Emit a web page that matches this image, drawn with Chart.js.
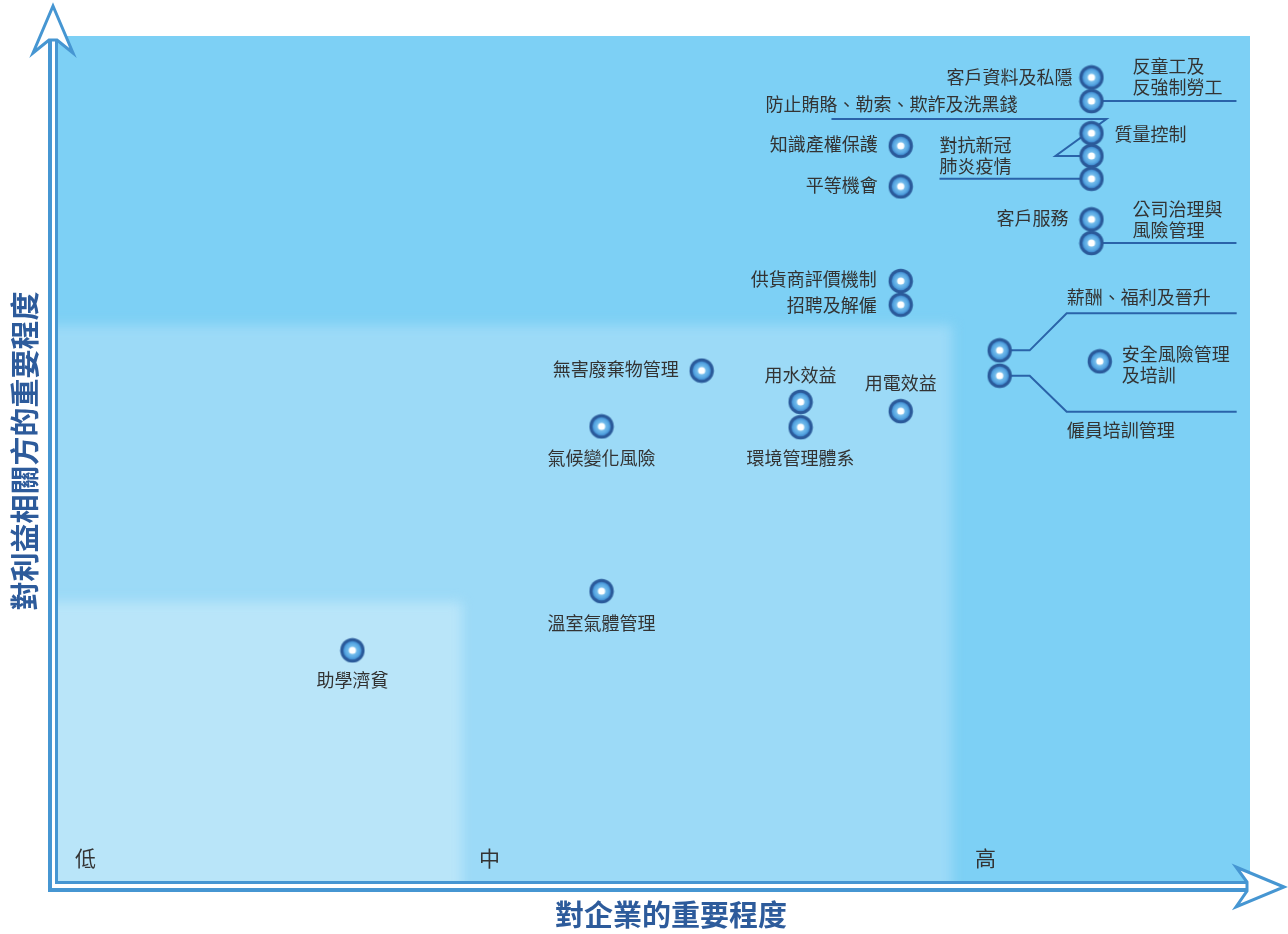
<!DOCTYPE html>
<html>
<head>
<meta charset="utf-8">
<script src="https://cdn.jsdelivr.net/npm/chart.js@4.4.0/dist/chart.umd.min.js"></script>
<style>
  html, body { margin: 0; padding: 0; background: #fff; }
  #wrap { width: 1288px; height: 934px; position: relative; }
</style>
</head>
<body>
<div id="wrap"><canvas id="graph"></canvas></div>
<script>
const canva = document.getElementById('graph');

// issues and their scores (0-10)
const issues = [
  '客戶資料及私隱', '反童工及反強制勞工', '質量控制', '防止賄賂、勒索、欺詐及洗黑錢', '對抗新冠肺炎疫情',
  '知識產權保護', '平等機會', '客戶服務', '公司治理與風險管理',
  '供貨商評價機制', '招聘及解僱', '薪酬、福利及晉升', '僱員培訓管理', '安全風險管理及培訓',
  '無害廢棄物管理', '用水效益', '環境管理體系', '用電效益', '氣候變化風險', '溫室氣體管理', '助學濟貧'
];
const bizImportance = [
  8.67, 8.67, 8.67, 8.67, 8.67,
  7.07, 7.07, 8.67, 8.67,
  7.07, 7.07, 7.90, 7.90, 8.74,
  5.40, 6.23, 6.23, 7.07, 4.56, 4.56, 2.47
];
const stakeImportance = [
  9.51, 9.23, 8.85, 8.58, 8.31,
  8.70, 8.22, 7.83, 7.55,
  7.10, 6.82, 6.28, 5.98, 6.15,
  6.04, 5.67, 5.37, 5.56, 5.38, 3.43, 2.73
];

// zones: low / mid / high
const zoneNames = ['低', '中', '高'];
const zoneStart = [0, 3.39, 7.50];
const zoneTop = [3.30, 6.58, 10];
const zoneColors = ['#b9e5f9', '#9cdaf7', '#7dd0f5'];

// label placement (pixel offsets from the point)
const labelLayout = {
  '客戶資料及私隱': { align: 'right', dx: -19, dy: 0 },
  '反童工及反強制勞工': { align: 'left', dx: 41, dy: -35, wrap: 4, line: [[0, 0], [145, 0]] },
  '質量控制': { align: 'left', dx: 23, dy: 1 },
  '防止賄賂、勒索、欺詐及洗黑錢': { align: 'right', dx: -74, dy: -52, line: [[0, 0], [-36, 0], [15, -37], [-260, -37]] },
  '對抗新冠肺炎疫情': { align: 'left', dx: -152, dy: -34, wrap: 4, line: [[0, 0], [-152, 0]] },
  '知識產權保護': { align: 'right', dx: -23, dy: -2 },
  '平等機會': { align: 'right', dx: -23, dy: -1 },
  '客戶服務': { align: 'right', dx: -23, dy: -1 },
  '公司治理與風險管理': { align: 'left', dx: 41, dy: -34, wrap: 5, line: [[0, 0], [145, 0]] },
  '供貨商評價機制': { align: 'right', dx: -24, dy: -2 },
  '招聘及解僱': { align: 'right', dx: -24, dy: 0 },
  '薪酬、福利及晉升': { align: 'left', dx: 67, dy: -53, line: [[0, 0], [30, 0], [67, -37], [237, -37]] },
  '僱員培訓管理': { align: 'left', dx: 67, dy: 54, line: [[0, 0], [30, 0], [67, 36], [237, 36]] },
  '安全風險管理及培訓': { align: 'left', dx: 22, dy: -7, wrap: 6 },
  '無害廢棄物管理': { align: 'right', dx: -23, dy: -1 },
  '用水效益': { align: 'center', dx: 0, dy: -27 },
  '環境管理體系': { align: 'center', dx: 0, dy: 31 },
  '用電效益': { align: 'center', dx: 0, dy: -28 },
  '氣候變化風險': { align: 'center', dx: 0, dy: 32 },
  '溫室氣體管理': { align: 'center', dx: 0, dy: 32 },
  '助學濟貧': { align: 'center', dx: 0, dy: 30 }
};

const FONT = '"Noto Sans CJK TC", "Noto Sans", sans-serif';
const AXIS_BLUE = '#4696d2';

// marker image
function makeMarker() {
  const c = document.createElement('canvas');
  c.width = 26; c.height = 26;
  const g = c.getContext('2d');
  const m = 13;
  g.beginPath(); g.arc(m, m, 12.2, 0, Math.PI * 2); g.fillStyle = '#2b5a9a'; g.fill();
  const grd = g.createRadialGradient(m, m, 2, m, m, 9.2);
  grd.addColorStop(0, '#86caf2');
  grd.addColorStop(0.7, '#5aa9e3');
  grd.addColorStop(1, '#3f8bd0');
  g.beginPath(); g.arc(m, m, 9.2, 0, Math.PI * 2); g.fillStyle = grd; g.fill();
  g.beginPath(); g.arc(m, m, 3.6, 0, Math.PI * 2); g.fillStyle = '#ffffff'; g.fill();
  return c;
}
const marker = makeMarker();

const points = issues.map((name, i) => ({ x: bizImportance[i], y: stakeImportance[i], name: name }));

const matrixPlugin = {
  id: 'matrix',
  beforeDatasetsDraw(chart) {
    const ctx = chart.ctx;
    const a = chart.chartArea;
    const xs = chart.scales.x, ys = chart.scales.y;
    ctx.save();
    ctx.beginPath();
    ctx.rect(a.left, a.top, a.right - a.left, a.bottom - a.top);
    ctx.clip();
    // high zone (full area)
    ctx.fillStyle = zoneColors[2];
    ctx.fillRect(a.left, a.top, a.right - a.left, a.bottom - a.top);
    // mid & low zones with soft edges
    for (let z = 1; z >= 0; z--) {
      const r = xs.getPixelForValue(zoneStart[z + 1]);
      const t = ys.getPixelForValue(zoneTop[z]);
      ctx.filter = 'blur(6px)';
      ctx.fillStyle = zoneColors[z];
      ctx.fillRect(a.left - 40, t, r - a.left + 40, a.bottom - t + 40);
      ctx.filter = 'none';
    }
    ctx.restore();

    // connector lines
    ctx.save();
    ctx.strokeStyle = '#2a63a9';
    ctx.lineWidth = 2;
    const meta = chart.getDatasetMeta(0);
    meta.data.forEach((el, i) => {
      const lay = labelLayout[issues[i]];
      if (!lay || !lay.line) return;
      ctx.beginPath();
      lay.line.forEach((p, k) => {
        if (k === 0) ctx.moveTo(el.x + p[0], el.y + p[1]);
        else ctx.lineTo(el.x + p[0], el.y + p[1]);
      });
      ctx.stroke();
    });
    ctx.restore();
  },
  afterDatasetsDraw(chart) {
    const ctx = chart.ctx;
    const a = chart.chartArea;
    const xs = chart.scales.x;
    ctx.save();
    ctx.fillStyle = '#333333';
    ctx.font = '18px ' + FONT;
    ctx.textBaseline = 'middle';
    const meta = chart.getDatasetMeta(0);
    meta.data.forEach((el, i) => {
      const name = issues[i];
      const lay = labelLayout[name];
      const lines = lay.wrap ? [name.slice(0, lay.wrap), name.slice(lay.wrap)] : [name];
      ctx.textAlign = lay.align;
      lines.forEach((ln, k) => {
        ctx.fillText(ln, el.x + lay.dx, el.y + lay.dy + k * 21);
      });
    });

    // zone tick labels
    ctx.font = '21px ' + FONT;
    ctx.textAlign = 'left';
    zoneNames.forEach((n, i) => {
      ctx.fillText(n, xs.getPixelForValue(zoneStart[i]) + 17 + (i === 2 ? 6 : 0), a.bottom - 23);
    });

    // axes: double lines with outlined arrow heads
    ctx.strokeStyle = AXIS_BLUE;
    ctx.lineCap = 'butt';
    const L = a.left, B = a.bottom;
    ctx.lineWidth = 4;
    ctx.beginPath();
    ctx.moveTo(L - 8, 40); ctx.lineTo(L - 8, B + 9); ctx.lineTo(a.right - 3, B + 9);
    ctx.stroke();
    ctx.lineWidth = 3;
    ctx.beginPath();
    ctx.moveTo(L - 1.5, 40); ctx.lineTo(L - 1.5, B + 1.5); ctx.lineTo(a.right - 3, B + 1.5);
    ctx.stroke();

    ctx.lineWidth = 3;
    ctx.lineJoin = 'miter';
    ctx.fillStyle = '#ffffff';
    // up arrow
    ctx.beginPath();
    ctx.moveTo(L - 5, 6);
    ctx.lineTo(L + 15, 53);
    ctx.lineTo(L - 1, 40);
    ctx.lineTo(L - 9, 40);
    ctx.lineTo(L - 25, 53);
    ctx.closePath();
    ctx.fill(); ctx.stroke();
    // right arrow
    const R = a.right;
    ctx.beginPath();
    ctx.moveTo(R + 34, B + 6);
    ctx.lineTo(R - 14, B - 14);
    ctx.lineTo(R - 3, B + 1);
    ctx.lineTo(R - 3, B + 10);
    ctx.lineTo(R - 14, B + 26);
    ctx.closePath();
    ctx.fill(); ctx.stroke();

    // axis titles
    ctx.fillStyle = '#2d5b9b';
    ctx.font = 'bold 29px ' + FONT;
    ctx.textAlign = 'center';
    ctx.textBaseline = 'middle';
    ctx.fillText('對企業的重要程度', 671, B + 34);
    ctx.translate(25, 451);
    ctx.rotate(-Math.PI / 2);
    ctx.fillText('對利益相關方的重要程度', 0, 0);
    ctx.restore();
  }
};

const data = {
  datasets: [{
    label: '重大性議題',
    data: points,
    pointStyle: marker,
    pointRadius: 13,
    pointHoverRadius: 13,
    showLine: false
  }]
};

const config = {
  type: 'scatter',
  data,
  options: {
    responsive: true,
    maintainAspectRatio: false,
    animation: false,
    layout: { padding: { left: 58, right: 38, top: 36, bottom: 53 } },
    plugins: { legend: { display: false }, tooltip: { enabled: false } },
    scales: {
      x: { type: 'linear', min: 0, max: 10, display: false },
      y: { type: 'linear', min: 0, max: 10, display: false }
    }
  },
  plugins: [matrixPlugin]
};

var chart = new Chart(canva, config);
</script>
</body>
</html>
